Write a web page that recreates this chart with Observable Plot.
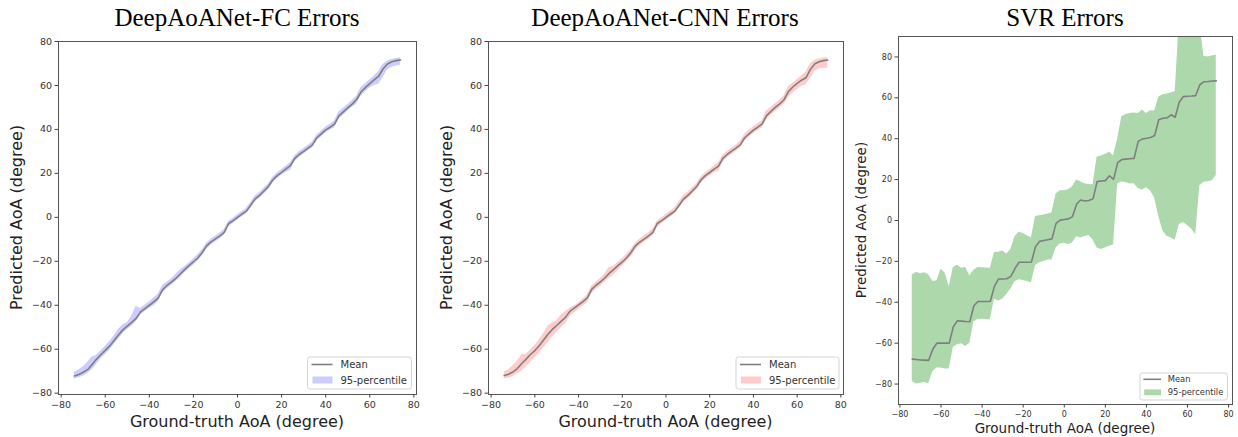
<!DOCTYPE html>
<html>
<head>
<meta charset="utf-8">
<script src="https://cdn.jsdelivr.net/npm/d3@7"></script>
<script src="https://cdn.jsdelivr.net/npm/@observablehq/plot@0.6"></script>
<style>
  html, body { margin: 0; padding: 0; background: #fff; }
  #root { position: relative; width: 1238px; height: 437px; overflow: hidden; background: #fff; }
  .panel { position: absolute; top: 0; }
  #overlay { position: absolute; left: 0; top: 0; pointer-events: none; }
</style>
</head>
<body>
<div id="root"></div>
<script>
// ---------------- data ----------------
const titles = ["DeepAoANet-FC Errors", "DeepAoANet-CNN Errors", "SVR Errors"];
const xLabel = "Ground-truth AoA (degree)";
const yLabel = "Predicted AoA (degree)";
const legendLabels = ["Mean", "95-percentile"];
const xTicks = [-80, -60, -40, -20, 0, 20, 40, 60, 80];
const yTicks = [-80, -60, -40, -20, 0, 20, 40, 60, 80];

const groundTruth = [-74,-72,-70,-68,-66,-64,-62,-60,-58,-56,-54,-52,-50,-48,-46,-44,-42,-40,-38,-36,-34,-32,-30,-28,-26,-24,-22,-20,-18,-16,-14,-12,-10,-8,-6,-4,-2,0,2,4,6,8,10,12,14,16,18,20,22,24,26,28,30,32,34,36,38,40,42,44,46,48,50,52,54,56,58,60,62,64,66,68,70,72,74];

const fcMean = [-72.2,-71.5,-70.5,-69.3,-67,-64.6,-62.5,-60.5,-58.5,-56,-53.5,-51.2,-49.5,-47.8,-46,-43,-41.5,-40,-38.5,-36.8,-33,-31,-29.5,-27.8,-25.8,-23.8,-22,-20.2,-18.5,-16,-13,-11.2,-9.8,-8.4,-6.8,-2.8,-1.5,0,1.5,2.8,5.5,8.4,10,12,14,17,19,20.5,22,23.5,26.8,28.6,30,31.5,33,36.2,38,39.8,41,42.4,46.2,48,49.8,51.5,53.6,57,59,60.8,62.5,64.2,67.5,69.8,70.8,71.3,71.6];
const fcUpper = [-70.5,-69.5,-68,-66,-63.5,-62.8,-60.8,-58.8,-56.5,-54,-51,-49,-48,-45,-40.5,-41.5,-40,-38.5,-36.8,-35,-31,-29.5,-28,-26,-24,-22.5,-20.8,-19,-17,-14.8,-11.8,-10,-8.6,-7.2,-5.5,-1.8,-0.5,1.2,2.6,4,6.8,9.6,11.2,13.2,15.2,18.2,20.2,21.7,23.2,24.8,28,29.8,31.2,32.7,34.3,37.5,39.2,41,42.3,43.8,48,49.5,51.2,53,55,59,60.8,62.5,64.3,66.2,69.5,71,71.8,72.3,72.6];
const fcLower = [-73.5,-73,-72.3,-71,-69.5,-67,-64.5,-62.5,-60.5,-58,-55.5,-53,-51,-49.5,-47.5,-44.5,-43,-41.5,-40.3,-38.5,-34.5,-32.5,-31,-29.3,-27.5,-25.3,-23.5,-21.8,-20,-17.5,-14.5,-12.7,-11.2,-9.8,-8.2,-4.3,-2.8,-1.3,0.3,1.5,4.2,7,8.6,10.5,12.6,15.6,17.6,19.2,20.5,21.3,25.3,27.2,28.7,30.2,31.6,34.8,36.5,38.3,39.6,40.8,44.5,46.5,48.3,50,51.5,55,57,58.8,60,60.5,63.5,67,68.3,68.8,69.2];

const cnnMean = [-72,-71.4,-70.3,-68.8,-66.5,-64.5,-62.4,-60.6,-58.4,-55.8,-53.2,-51,-49.2,-47.3,-45.5,-42.8,-41.3,-39.8,-38.3,-36.6,-32.8,-30.9,-29.4,-27.6,-25.5,-23.8,-22,-20.3,-18.4,-16,-13,-11.3,-9.9,-8.4,-6.8,-2.8,-1.5,0,1.4,2.8,5.5,8.3,10,12,14,17,19,20.4,21.9,23.3,26.8,28.6,30.1,31.5,33,36.2,38,39.7,41,42.5,46.3,48.2,50,51.6,53.5,57.2,59.3,60.9,62.4,63.5,67.2,69.8,70.8,71.3,71.6];
const cnnUpper = [-70.3,-69.5,-67.5,-65.5,-62.5,-62.3,-60.5,-58.3,-55.8,-53,-49.5,-48,-47,-44.5,-43,-41.5,-40.3,-39,-37.3,-35.3,-31.2,-29.5,-27.8,-25.8,-22.8,-22.3,-20.5,-18.8,-16.8,-14.5,-11.8,-10,-8.5,-7,-5.3,-1.8,-0.3,1.3,2.8,4.3,7,9.8,11.4,13.3,15.3,18.3,20.3,21.8,23.3,24.8,28.2,30,31.4,32.8,34.5,37.8,39.5,41.2,42.6,44,48.5,50,51.7,53.3,55.2,59.5,61,62.6,64.3,66,69.8,71.3,72,72.5,72.6];
const cnnLower = [-73.6,-73.2,-72.5,-71.3,-70,-68,-66,-64,-61.8,-59.5,-57,-54.5,-52.3,-50.5,-48.5,-45.2,-43.5,-42,-40.5,-39,-34.8,-32.8,-31.3,-29.5,-27.8,-26.3,-24.3,-22.3,-20.3,-18,-15,-13,-11.4,-10,-8.5,-4.6,-3,-1.5,0,1.3,4,6.8,8.4,10.3,12.3,15.3,17.3,18.8,20.3,21,25,27,28.5,30,31.5,34.6,36.3,38,39.5,40.6,44.3,46.3,48,49.8,51.3,54.5,56.5,58.2,59.5,60.3,63,66.3,67.5,67.8,67.8];

const svrMean = [-67.8,-68,-68.2,-68.3,-68.4,-63,-60,-60,-60,-60,-52,-49,-49.2,-49.4,-49.5,-41.7,-39.6,-39.6,-39.6,-39.5,-32.2,-28.6,-28.6,-28.5,-27.3,-23.5,-20.4,-20.4,-20.4,-20.3,-12.8,-10.2,-9.8,-9.4,-9,-1.4,0.2,0.5,0.8,1.9,8,10,9.5,9.8,10.6,19,19.3,19.5,21.9,20.1,28.3,29.8,30,30.2,30.4,38.7,39.9,40.2,40.6,41.6,49.3,50,50.2,51.7,50.5,58,60.6,60.8,60.9,61.1,66.4,67.9,68,68.2,68.3];
const svrUpper = [-26.6,-25.3,-26,-25.5,-26.5,-29.8,-29.5,-23.9,-25.7,-32.3,-23,-21.9,-23.4,-23,-27,-24.3,-23,-23.1,-23.2,-23.3,-15.7,-15.5,-14.9,-16.4,-14.2,-8,-5.8,-6.4,-7.4,-8.5,1.9,2.3,2.7,3.2,3.7,13,14.5,14.5,15.1,16.5,19.8,19,18,17.6,17.5,31,31.6,32.3,33.5,31.5,40,50.8,51.8,52.3,52.6,52.3,54,52.3,53.7,53.5,60.3,61.5,61.9,62.4,63,98,98,98,98,98,96,80.3,80,80.5,81];
const svrLower = [-78.7,-80,-79.6,-79.3,-79.8,-74,-72.2,-72.2,-72.6,-72.6,-62,-60.8,-60.3,-61.6,-60,-49.5,-48.4,-48.3,-48.5,-48.6,-38.5,-39.4,-38.5,-36.2,-33.5,-30,-29,-29.3,-29.8,-30.5,-22,-20.7,-20,-19.3,-19.3,-13.5,-11.5,-11.1,-11.8,-11,-7.9,-8.6,-7.8,-7.3,-9.5,-13.4,-14.2,-13.5,-12.6,-12,18,18.8,18.6,17.8,18,15.6,14.9,16,14.5,11,2,-5,-7.7,-8.5,-9.5,-2,-1,-2.5,-4.2,-7,17,18.7,19,19.5,22];

// ---------------- layout ----------------
const panels = [
  {left: 0,   width: 425, mL: 58, mR: 9, mT: 41, mB: 43, xDom: [-81.2, 81.2], yDom: [-80.6, 80], fill: "rgb(204,204,255)", mean: fcMean, upper: fcUpper, lower: fcLower, tick: 9.5},
  {left: 430, width: 420, mL: 58, mR: 7, mT: 41, mB: 43, xDom: [-81.2, 81.2], yDom: [-80.6, 80], fill: "rgb(255,204,204)", mean: cnnMean, upper: cnnUpper, lower: cnnLower, tick: 9.5},
  {left: 850, width: 388, mL: 48, mR: 6, mT: 36, mB: 33, xDom: [-80.7, 81.9], yDom: [-90, 90], fill: "rgb(172,216,172)", mean: svrMean, upper: svrUpper, lower: svrLower, tick: 8}
];

const root = document.getElementById("root");
const fmt = d => d < 0 ? "\u2212" + (-d) : String(d);

panels.forEach(p => {
  const data = groundTruth.map((x, i) => ({x, m: p.mean[i], hi: p.upper[i], lo: p.lower[i]}));
  const chart = Plot.plot({
    width: p.width, height: 437,
    marginLeft: p.mL, marginRight: p.mR, marginTop: p.mT, marginBottom: p.mB,
    style: {fontFamily: "DejaVu Sans", fontSize: p.tick + "px", color: "#333", background: "transparent", overflow: "visible"},
    x: {domain: p.xDom, ticks: xTicks},
    y: {domain: p.yDom, ticks: yTicks},
    marks: [
      Plot.areaY(data, {x: "x", y1: "lo", y2: "hi", fill: p.fill, clip: true}),
      Plot.lineY(data, {x: "x", y: "m", stroke: "#7f7f7f", strokeWidth: 1.6, clip: true}),
      Plot.frame({stroke: "#555", strokeWidth: 1}),
      Plot.axisX({ticks: xTicks, tickSize: 3.5, tickPadding: 3, tickFormat: fmt, label: null, fontSize: p.tick, stroke: "#444"}),
      Plot.axisY({ticks: yTicks, tickSize: 3.5, tickPadding: 3, tickFormat: fmt, label: null, fontSize: p.tick, stroke: "#444"})
    ]
  });
  const div = document.createElement("div");
  div.className = "panel";
  div.style.left = p.left + "px";
  div.appendChild(chart);
  root.appendChild(div);
});

// ---------------- text overlay: titles, axis labels, legends ----------------
const svgNS = "http://www.w3.org/2000/svg";
const ov = document.createElementNS(svgNS, "svg");
ov.setAttribute("id", "overlay");
ov.setAttribute("width", 1238);
ov.setAttribute("height", 437);
root.appendChild(ov);
function el(tag, attrs, text) {
  const e = document.createElementNS(svgNS, tag);
  for (const k in attrs) e.setAttribute(k, attrs[k]);
  if (text != null) e.textContent = text;
  ov.appendChild(e);
  return e;
}

const titleX = [237, 665, 1065];
titles.forEach((t, i) => el("text", {x: titleX[i], y: 26, "text-anchor": "middle", "font-family": "Liberation Serif, Times New Roman, serif", "font-size": 25, fill: "#000"}, t));

const xLab = [{x: 237, y: 427, s: 16}, {x: 665.5, y: 427, s: 16}, {x: 1065, y: 432.5, s: 13.5}];
xLab.forEach(l => el("text", {x: l.x, y: l.y, "text-anchor": "middle", "font-family": "DejaVu Sans", "font-size": l.s, fill: "#222"}, xLabel));
const yLab = [{x: 22, y: 217.5, s: 16}, {x: 451.5, y: 217.5, s: 16}, {x: 866, y: 220, s: 13.5}];
yLab.forEach(l => el("text", {transform: `translate(${l.x},${l.y}) rotate(-90)`, "text-anchor": "middle", "font-family": "DejaVu Sans", "font-size": l.s, fill: "#222"}, yLabel));

const legends = [
  {x: 307.5, y: 357, w: 104, h: 32, fs: 10, fill: panels[0].fill},
  {x: 736, y: 357, w: 103, h: 32, fs: 10, fill: panels[1].fill},
  {x: 1140, y: 373, w: 87.5, h: 27, fs: 8.4, fill: panels[2].fill}
];
legends.forEach(L => {
  const k = L.fs / 10;
  el("rect", {x: L.x, y: L.y, width: L.w, height: L.h, rx: 2.5, fill: "rgba(255,255,255,0.85)", stroke: "#d4d4d4", "stroke-width": 1});
  el("line", {x1: L.x + 4 * k, x2: L.x + 25 * k, y1: L.y + 7.5 * k, y2: L.y + 7.5 * k, stroke: "#7f7f7f", "stroke-width": 1.6});
  el("text", {x: L.x + 33 * k, y: L.y + 7.5 * k, dy: "0.35em", "font-family": "DejaVu Sans", "font-size": L.fs, fill: "#333"}, legendLabels[0]);
  el("rect", {x: L.x + 5 * k, y: L.y + 19.5 * k, width: 20 * k, height: 7 * k, fill: L.fill});
  el("text", {x: L.x + 33 * k, y: L.y + 23 * k, dy: "0.35em", "font-family": "DejaVu Sans", "font-size": L.fs, fill: "#333"}, legendLabels[1]);
});
</script>
</body>
</html>
